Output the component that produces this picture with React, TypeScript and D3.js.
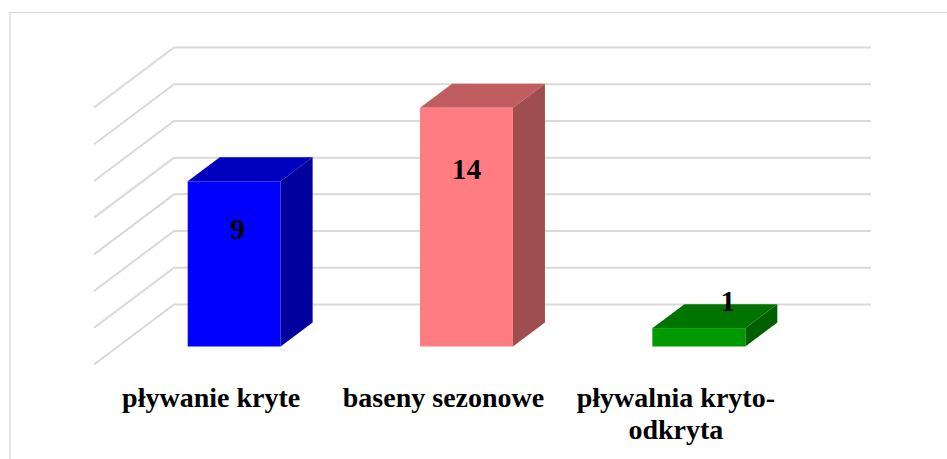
import { useMemo } from "react";
import * as d3 from "d3";

const categories = ["pływanie kryte", "baseny sezonowe", "pływalnia kryto-|odkryta"];
// bar heights as drawn: the middle bar stands at 13 on the grid although its label says 14
const values = [9, 13, 1];
const valueLabels = ["9", "14", "1"];
const frontColors = ["#0000ff", "#ff7c80", "#009900"];
const topColors = ["#0000bf", "#bf5d60", "#007300"];
const sideColors = ["#00009c", "#9f4e50", "#006000"];
const gridTicks = [0, 2, 4, 6, 8, 10, 12, 14];
// hand placed data labels in the original: offset from the bar's top centre
const labelDx = [3.5, 0, 29];
const labelDy = [57.5, 71, -17];

const width = 947;
const height = 459;
const floorLeft = 94;
const floorRight = 791;
const floorFront = 364.5;
const depthX = 80;
const depthY = 60;
const wallTop = 47.5;

const pt = (x: number, y: number) => `${x},${y}`;

export default function App() {
  const xScale = useMemo(
    () =>
      d3
        .scaleBand<number>()
        .domain(d3.range(categories.length))
        .range([floorLeft, floorRight])
        .paddingInner(0.6)
        .paddingOuter(0.3),
    []
  );
  // height above the floor, measured in the front plane
  const yScale = useMemo(
    () => d3.scaleLinear().domain([0, 14]).range([floorFront, wallTop + depthY]),
    []
  );

  // bars sit between 30% and 70% of the floor depth
  const near = 0.3;
  const far = 0.7;

  return (
    <svg
      width={width}
      height={height}
      style={{ position: "absolute", left: 0, top: 0, background: "#fff" }}
      fontFamily="'Liberation Serif', serif"
      fontWeight="bold"
    >
      <rect x={10} y={12.5} width={960} height={470} fill="#fff" stroke="#d9d9d9" strokeWidth={1.3} />

      {gridTicks.map((t) => {
        const y = yScale(t);
        return (
          <polyline
            key={t}
            points={[pt(floorLeft, y), pt(floorLeft + depthX, y - depthY), pt(floorRight + depthX, y - depthY)].join(" ")}
            fill="none"
            stroke="#d9d9d9"
            strokeWidth={2}
          />
        );
      })}

      {values.map((v, i) => {
        const x0 = xScale(i)! + near * depthX;
        const x1 = x0 + xScale.bandwidth();
        const bottom = yScale(0) - near * depthY;
        const top = yScale(v) - near * depthY;
        const dx = (far - near) * depthX;
        const dy = (far - near) * depthY;
        return (
          <g key={i}>
            <polygon
              points={[pt(x0, top), pt(x1, top), pt(x1 + dx, top - dy), pt(x0 + dx, top - dy)].join(" ")}
              fill={topColors[i]}
            />
            <polygon
              points={[pt(x1, top), pt(x1 + dx, top - dy), pt(x1 + dx, bottom - dy), pt(x1, bottom)].join(" ")}
              fill={sideColors[i]}
            />
            <rect x={x0} y={top} width={x1 - x0} height={bottom - top} fill={frontColors[i]} />
            <text
              x={(x0 + x1) / 2 + labelDx[i]}
              y={top + labelDy[i]}
              textAnchor="middle"
              fontSize={29.5}
              fill="#000"
            >
              {valueLabels[i]}
            </text>
          </g>
        );
      })}

      {categories.map((c, i) => {
        const cx = xScale(i)! + xScale.bandwidth() / 2 + 1;
        return (
          <text key={c} textAnchor="middle" fontSize={28} fill="#000">
            {c.split("|").map((line, j) => (
              <tspan key={line} x={cx} y={406.7 + j * 32}>
                {line}
              </tspan>
            ))}
          </text>
        );
      })}
    </svg>
  );
}
